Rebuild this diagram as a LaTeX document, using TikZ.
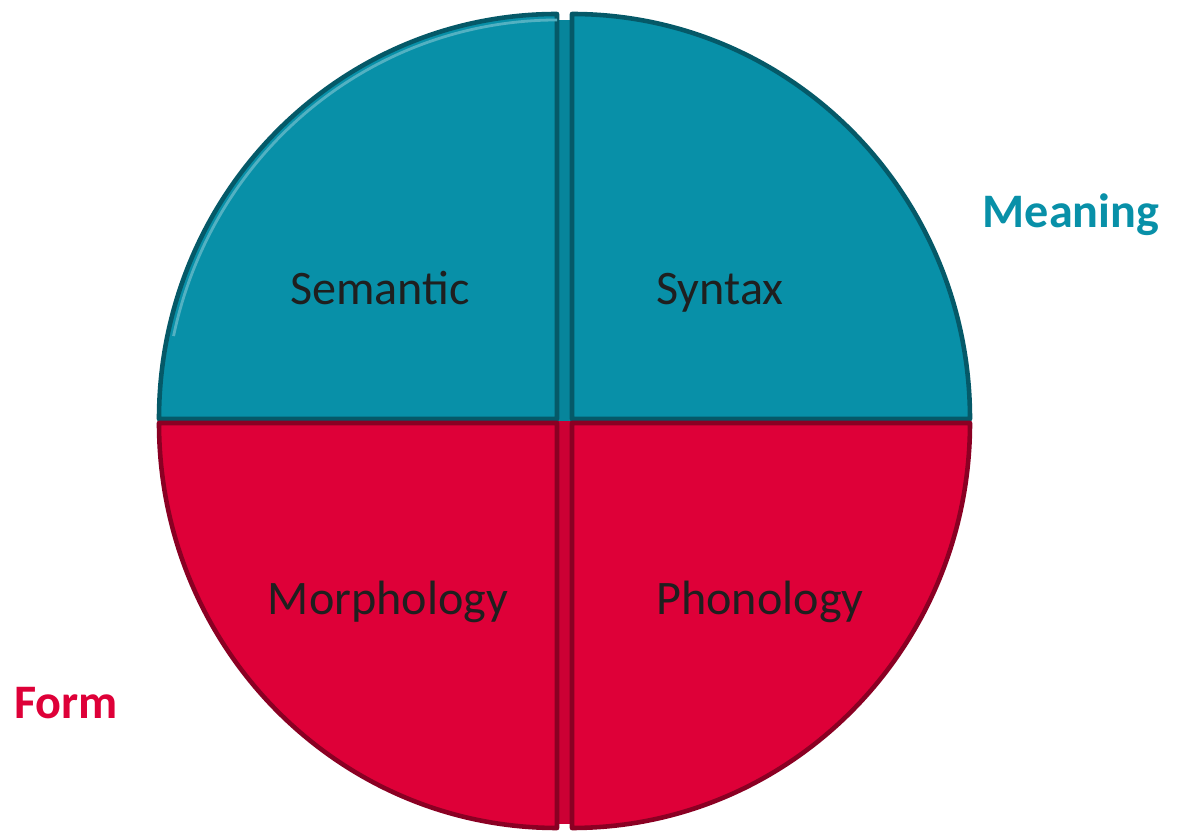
\documentclass[tikz,border=0pt]{standalone}
\usepackage{fontspec}
\setmainfont{Carlito}
\usetikzlibrary{positioning}
\definecolor{meaningcol}{HTML}{0890A8}
\definecolor{formcol}{HTML}{DE0038}
\tikzset{quad/.style={fill=#1,draw=#1!62!black,line width=1.3pt,line join=round},
  rim/.style={draw=#1!70!white,line width=0.8pt},
  lbl/.style={font=\fontsize{13.7}{16}\selectfont,text=black!88,text height=1.6ex,text depth=0.5ex},
  side/.style={font=\fontsize{13.7}{16}\selectfont\bfseries,text=#1}}

\begin{document}
\begin{tikzpicture}
  \useasboundingbox (0,0) rectangle (11.8,8.4);
  \def\rx{3.98}
  \def\ry{4.05}
  % backing under the split
  \fill[meaningcol!92!black] (5.55,4.19) rectangle (5.74,8.2);
  \fill[formcol!92!black] (5.55,4.19) rectangle (5.74,0.16);
  % top half: meaning
  \draw[quad=meaningcol] (5.57,4.21) -- ++(180:\rx) arc [start angle=180,end angle=90,x radius=\rx,y radius=\ry] -- cycle;
  \draw[quad=meaningcol] (5.72,4.21) -- ++(0:\rx) arc [start angle=0,end angle=90,x radius=\rx,y radius=\ry] -- cycle;
  % bottom half: form
  \draw[quad=formcol] (5.57,4.17) -- ++(180:\rx) arc [start angle=180,end angle=270,x radius=\rx,y radius=\ry] -- cycle;
  \draw[quad=formcol] (5.72,4.17) -- ++(0:\rx) arc [start angle=0,end angle=-90,x radius=\rx,y radius=\ry] -- cycle;
  % light rim on the top
  \draw[rim=meaningcol] (5.57,4.21) ++(168:3.92 and 3.99) arc [start angle=168,end angle=90,x radius=3.92,y radius=3.99];

  \node[lbl] (sem) at (3.8,5.45) {Semantic};
  \node[lbl] (syn) at (7.2,5.45) {Syntax};
  \node[lbl] (mor) at (3.88,2.35) {Morphology};
  \node[lbl] (pho) at (7.6,2.35) {Phonology};
  \node[side=meaningcol] (mean) at (10.71,6.25) {Meaning};
  \node[side=formcol] (form) at (0.66,1.37) {Form};
\end{tikzpicture}
\end{document}
